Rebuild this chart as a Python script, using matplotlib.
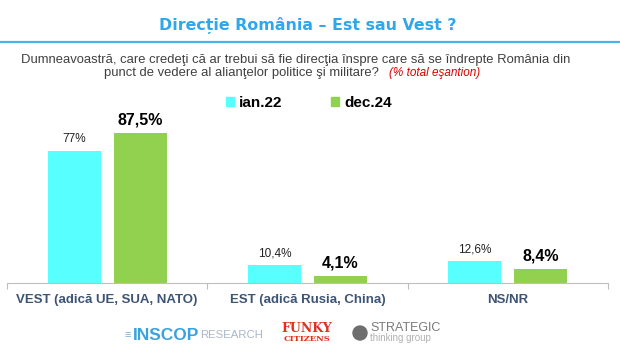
import matplotlib
matplotlib.use('Agg')
import matplotlib.pyplot as plt
from matplotlib.patches import Patch, Ellipse
import numpy as np

# Data
categories = ['VEST (adică UE, SUA, NATO)', 'EST (adică Rusia, China)', 'NS/NR']
series_names = ['ian.22', 'dec.24']
ian22 = [77, 10.4, 12.6]
dec24 = [87.5, 4.1, 8.4]

CYAN = '#57FFFF'
GREEN = '#92D050'
TITLE_BLUE = '#2FA7E8'
CAT_COLOR = '#3E5475'

plt.rcParams['font.family'] = ['Liberation Sans', 'DejaVu Sans']

W, H = 620, 348
fig = plt.figure(figsize=(W / 100, H / 100), dpi=100)


def fx(px):
    return px / W


def fy(py):
    return 1 - py / H


# Title and rule under it
fig.text(fx(308), fy(25), 'Direcție România – Est sau Vest ?', ha='center', va='center',
         fontsize=11.4, fontweight='bold', color=TITLE_BLUE, family=['DejaVu Sans'])
fig.add_artist(plt.Line2D([0, 1], [fy(42), fy(42)], color='#49B3EC', lw=1.6))

# Question text
fig.text(fx(296), fy(60), 'Dumneavoastră, care credeţi că ar trebui să fie direcţia înspre care să se îndrepte România din',
         ha='center', va='center', fontsize=9.35, color='#404040')
fig.text(fx(379), fy(73), 'punct de vedere al alianţelor politice şi militare?', ha='right', va='center',
         fontsize=9.35, color='#404040')
fig.text(fx(389), fy(73), '(% total eşantion)', ha='left', va='center',
         fontsize=8.5, color='#E00000', style='italic')

# Chart area
ax = fig.add_axes([fx(7), fy(283), fx(601), (283 - 110) / H])
x = np.arange(len(categories))
width = 0.265
off = 0.165
b1 = ax.bar(x - off, ian22, width, color=CYAN, label=series_names[0])
b2 = ax.bar(x + off, dec24, width, color=GREEN, label=series_names[1])

ax.set_xlim(-0.5, len(categories) - 0.5)
ax.set_ylim(0, 173 / 1.716)

for rect, v in zip(b1, ian22):
    ax.annotate(f'{v:g}'.replace('.', ',') + '%', (rect.get_x() + rect.get_width() / 2, v),
                xytext=(0, 4), textcoords='offset points', ha='center', va='bottom',
                fontsize=8.5, color='#222222')
for rect, v in zip(b2, dec24):
    ax.annotate(f'{v:g}'.replace('.', ',') + '%', (rect.get_x() + rect.get_width() / 2, v),
                xytext=(0, 4), textcoords='offset points', ha='center', va='bottom',
                fontsize=11.5, fontweight='bold', color='black')

# Axis styling
for side in ['top', 'right', 'left']:
    ax.spines[side].set_visible(False)
ax.spines['bottom'].set_color('#BFBFBF')
ax.set_yticks([])
ax.set_xticks(np.arange(len(categories) + 1) - 0.5)
ax.set_xticklabels([])
ax.tick_params(axis='x', length=4, color='#BFBFBF')
ax.set_xticks(x, minor=True)
ax.set_xticklabels(categories, minor=True)
ax.tick_params(axis='x', which='minor', length=0, pad=8, labelsize=9.5, labelcolor=CAT_COLOR)
for lbl in ax.get_xticklabels(minor=True):
    lbl.set_fontweight('bold')

# Legend
handles = [Patch(color=CYAN), Patch(color=GREEN)]
fig.legend(handles, series_names, loc='center', bbox_to_anchor=(fx(309), fy(103)), ncol=2,
           frameon=False, handlelength=0.5, handleheight=0.5, handletextpad=0.35,
           columnspacing=3.2, prop={'weight': 'bold', 'size': 11})

# Partner logos (as text)
fig.text(fx(128), fy(335), '≡', ha='center', va='center', fontsize=8, color='#7FB3D5')
fig.text(fx(133), fy(335), 'INSCOP', ha='left', va='center', fontsize=12.5, fontweight='bold', color='#3AA3DD')
fig.text(fx(200), fy(335.5), 'RESEARCH', ha='left', va='center', fontsize=8.2, color='#A9B7C6')
fig.text(fx(307), fy(329), 'FUNKY', ha='center', va='center', fontsize=9, fontweight='bold',
         color='#E0301E', family=['DejaVu Serif'])
fig.text(fx(307), fy(339), 'CITIZENS', ha='center', va='center', fontsize=6, fontweight='bold',
         color='#E0301E', family=['DejaVu Serif'])
fig.add_artist(Ellipse((fx(360), fy(333)), 14 / W, 14 / H, transform=fig.transFigure, color='#6E6E6E'))
fig.text(fx(370), fy(328), 'STRATEGIC', ha='left', va='center', fontsize=9, color='#7A7A7A')
fig.text(fx(370), fy(338), 'thinking group', ha='left', va='center', fontsize=7, color='#B0B0B0')

fig.savefig('out.png', dpi=100, facecolor='white')
